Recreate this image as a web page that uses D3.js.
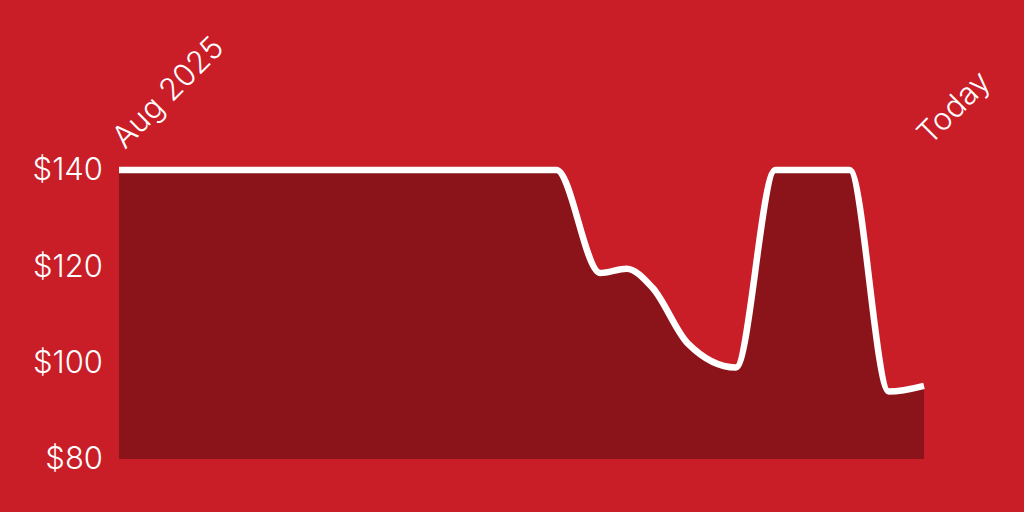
<!DOCTYPE html>
<html>
<head>
<meta charset="utf-8">
<script src="https://cdn.jsdelivr.net/npm/d3@7"></script>
<style>
  html, body { margin: 0; padding: 0; background: #c91d27; }
  svg { display: block; }
  text { font-family: Inter, "Noto Sans", sans-serif; font-weight: 300; fill: #fff; }
</style>
</head>
<body>
<div id="chart"></div>
<script>
// price history, capped at the top of the scale
var dates = ['2025-08-01', '2025-11-09', '2025-11-19', '2025-11-25', '2025-12-01',
             '2025-12-09', '2025-12-20', '2025-12-29', '2026-01-15', '2026-01-24', '2026-02-01'];
var prices = [140, 140, 118.6, 119.5, 115.5, 104, 99, 140, 140, 94, 95.2];
var yTicks = [80, 100, 120, 140];
var startLabel = 'Aug 2025',
    endLabel = 'Today';

var w = 1024,
    h = 512,
    margin = {top: 170, right: 100, bottom: 53, left: 119};

var parse = d3.timeParse('%Y-%m-%d');
var data = dates.map(function (d, i) {
  return {date: parse(d), price: prices[i]};
});

var svg = d3.select('#chart')
    .append('svg')
    .attr('width', w)
    .attr('height', h);

svg.append('rect')
    .attr('width', w)
    .attr('height', h)
    .attr('fill', '#c91d27');

var x = d3.scaleTime()
    .domain(d3.extent(data, function (d) { return d.date; }))
    .range([margin.left, w - margin.right]);

var y = d3.scaleLinear()
    .domain([80, 140])
    .range([h - margin.bottom, margin.top]);

var area = d3.area()
    .curve(d3.curveMonotoneX)
    .x(function (d) { return x(d.date); })
    .y0(y(80))
    .y1(function (d) { return y(d.price); });

var line = d3.line()
    .curve(d3.curveMonotoneX)
    .x(function (d) { return x(d.date); })
    .y(function (d) { return y(d.price); });

svg.append('path')
    .datum(data)
    .attr('d', area)
    .attr('fill', '#8b141b');

svg.append('path')
    .datum(data)
    .attr('d', line)
    .attr('fill', 'none')
    .attr('stroke', '#fff')
    .attr('stroke-width', 6.5);

// y labels, no ticks or domain line
var yAxis = svg.append('g')
    .attr('transform', 'translate(' + (margin.left - 16) + ',0)')
    .call(d3.axisLeft(y)
      .tickValues(yTicks)
      .tickSize(0)
      .tickPadding(0)
      .tickFormat(function (d) { return '$' + d; }));

yAxis.select('.domain').remove();
yAxis.selectAll('text')
    .attr('fill', '#fff')
    .style('font-size', '31px')
    .style('font-weight', 300)
    .style('font-family', 'Inter, "Noto Sans", sans-serif');

// rotated date labels at both ends
svg.append('text')
    .attr('transform', 'translate(' + (x(data[0].date) + 6) + ',' + (margin.top - 20) + ') rotate(-45)')
    .style('font-size', '31px')
    .text(startLabel);

svg.append('text')
    .attr('transform', 'translate(' + (x(data[data.length - 1].date) + 6) + ',' + (margin.top - 24) + ') rotate(-45)')
    .style('font-size', '31px')
    .text(endLabel);
</script>
</body>
</html>
